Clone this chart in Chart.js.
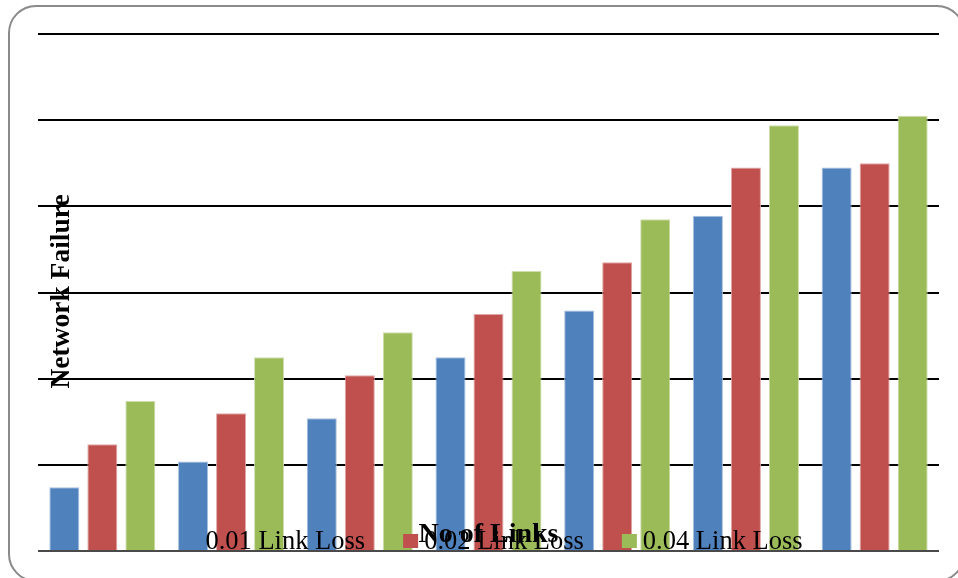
<!DOCTYPE html>
<html><head><meta charset="utf-8">
<script src="https://cdn.jsdelivr.net/npm/chart.js@4.4.0/dist/chart.umd.min.js"></script>
<style>
html,body{margin:0;padding:0;background:#fff;}
#wrap{position:relative;width:958px;height:578px;overflow:hidden;background:#fff;}
#frame{position:absolute;left:8px;top:5px;width:957px;height:577px;border:2px solid #8a8a8a;border-radius:28px;box-sizing:border-box;}
canvas{position:absolute;left:0;top:0;}
</style></head><body>
<div id="wrap"><div id="frame"></div><canvas id="c" width="958" height="578"></canvas></div>
<script>
// Data (values in units of one gridline step; the original shows no tick labels)
const categories = ['1', '2', '3', '4', '5', '6', '7'];
const seriesNames = ['0.01 Link Loss', '0.02 Link Loss', '0.04 Link Loss'];
const loss001 = [0.74, 1.04, 1.54, 2.25, 2.79, 3.89, 4.45];
const loss002 = [1.24, 1.60, 2.04, 2.75, 3.35, 4.45, 4.50];
const loss004 = [1.74, 2.25, 2.54, 3.25, 3.85, 4.94, 5.05];
const yMax = 6;
const yStep = 1;
const xTitle = 'No of Links';
const yTitle = 'Network Failure';

const colors = ['#4F81BD', '#C0504D', '#9BBB59'];
const borders = ['#A7C0DE', '#DFA8A6', '#CDDDAC'];

const overlay = {
  id: 'overlay',
  afterDraw(chart) {
    const ctx = chart.ctx;
    const a = chart.chartArea;
    ctx.save();
    // legend
    ctx.font = '26.5px "Liberation Serif"';
    const boxW = 15, boxH = 14, gap = 6, itemGap = 38;
    const ds = chart.data.datasets;
    const widths = ds.map(d => ctx.measureText(d.label).width);
    let total = 0;
    widths.forEach(w => total += boxW + gap + w);
    total += itemGap * (ds.length - 1);
    let x = (a.left + a.right) / 2 + 5 - total / 2;
    const base = a.bottom - 2;
    ds.forEach((d, i) => {
      ctx.fillStyle = d.backgroundColor;
      ctx.fillRect(x, base - 15, boxW, boxH);
      ctx.fillStyle = '#000';
      ctx.textBaseline = 'alphabetic';
      ctx.textAlign = 'left';
      ctx.fillText(d.label, x + boxW + gap, base);
      x += boxW + gap + widths[i] + itemGap;
    });
    // x title
    ctx.font = 'bold 28px "Liberation Serif"';
    ctx.textAlign = 'center';
    ctx.fillText(xTitle, (a.left + a.right) / 2, a.bottom - 9);
    // y title
    ctx.translate(a.left + 31, (a.top + a.bottom) / 2 - 1);
    ctx.rotate(-Math.PI / 2);
    ctx.font = 'bold 27.5px "Liberation Serif"';
    ctx.fillText(yTitle, 0, 0);
    ctx.restore();
  }
};

new Chart(document.getElementById('c'), {
  type: 'bar',
  data: {
    labels: categories,
    datasets: [loss001, loss002, loss004].map((v, i) => ({
      label: seriesNames[i],
      data: v,
      backgroundColor: colors[i],
      borderColor: borders[i],
      borderWidth: 1,
      barPercentage: 0.79,
      categoryPercentage: 0.886
    }))
  },
  options: {
    responsive: false,
    animation: false,
    devicePixelRatio: 1,
    layout: { padding: { left: 38, right: 19, top: 34, bottom: 27 } },
    plugins: { legend: { display: false }, tooltip: { enabled: false }, title: { display: false } },
    scales: {
      x: {
        ticks: { display: false },
        grid: { display: false, drawTicks: false },
        border: { display: false }
      },
      y: {
        min: 0, max: yMax,
        ticks: { display: false, stepSize: yStep },
        grid: {
          drawTicks: false,
          lineWidth: 2,
          color: c => (c.tick && c.tick.value === 0) ? '#4a4a4a' : '#000'
        },
        border: { display: false }
      }
    }
  },
  plugins: [overlay]
});
</script>
</body></html>
